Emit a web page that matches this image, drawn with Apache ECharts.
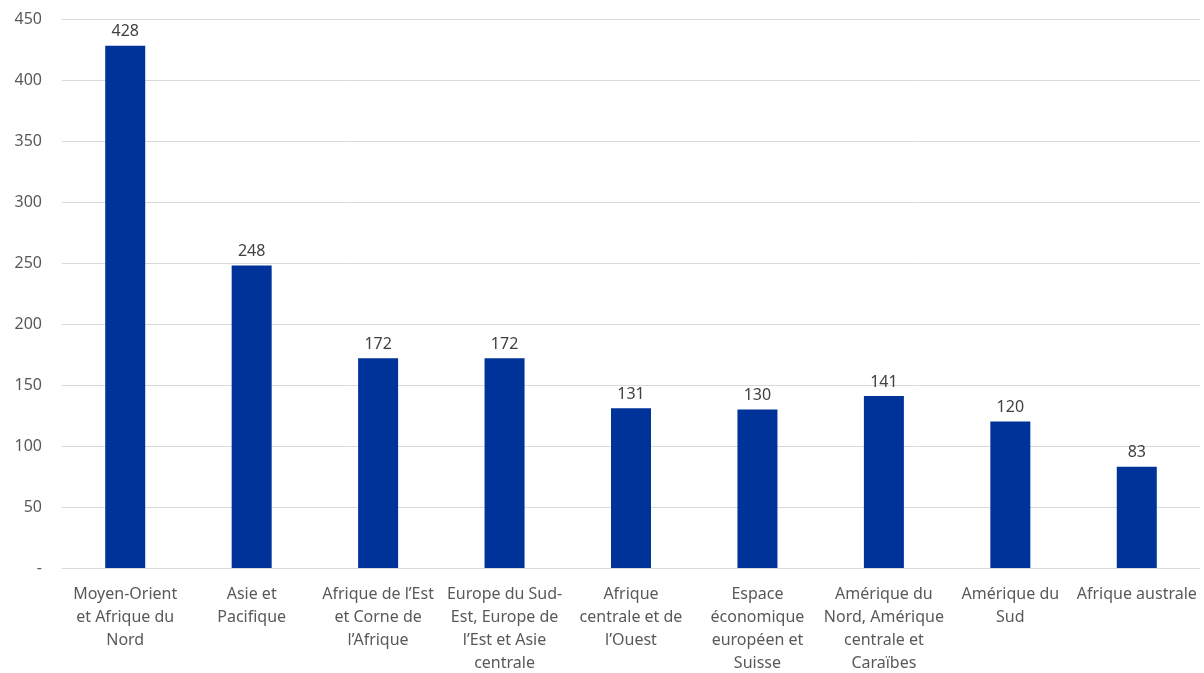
<!DOCTYPE html>
<html lang="fr">
<head>
<meta charset="UTF-8">
<title>Chart</title>
<script src="https://cdn.jsdelivr.net/npm/echarts@6/dist/echarts.min.js"></script>
<style>
  html, body { margin: 0; padding: 0; background: #fff; }
  #chart { width: 1204px; height: 673px; }
</style>
</head>
<body>
<div id="chart"></div>
<script>
var regions = [
  'Moyen-Orient\net Afrique du\nNord',
  'Asie et\nPacifique',
  'Afrique de l’Est\net Corne de\nl’Afrique',
  'Europe du Sud-\nEst, Europe de\nl’Est et Asie\ncentrale',
  'Afrique\ncentrale et de\nl’Ouest',
  'Espace\néconomique\neuropéen et\nSuisse',
  'Amérique du\nNord, Amérique\ncentrale et\nCaraïbes',
  'Amérique du\nSud',
  'Afrique australe'
];
var values = [428, 248, 172, 172, 131, 130, 141, 120, 83];

var chart = echarts.init(document.getElementById('chart'));
var font = 'Noto Sans';

chart.setOption({
  animation: false,
  grid: { left: 62, right: 4, top: 19, bottom: 105, outerBoundsMode: 'none', containLabel: false },
  xAxis: {
    type: 'category',
    data: regions,
    axisLine: { lineStyle: { color: '#d9d9d9' } },
    axisTick: { show: false },
    axisLabel: {
      interval: 0,
      color: '#595959',
      fontFamily: font,
      fontSize: 16,
      lineHeight: 23,
      margin: 15
    }
  },
  yAxis: {
    type: 'value',
    min: 0,
    max: 450,
    interval: 50,
    axisLine: { show: false },
    axisTick: { show: false },
    splitLine: { lineStyle: { color: '#d9d9d9' } },
    axisLabel: {
      color: '#595959',
      fontFamily: font,
      fontSize: 16,
      margin: 20,
      formatter: function (v) { return v === 0 ? '-' : v; }
    }
  },
  series: [{
    type: 'bar',
    data: values,
    barWidth: 40,
    itemStyle: { color: '#003399' },
    label: {
      show: true,
      position: 'top',
      distance: 6,
      color: '#404040',
      fontFamily: font,
      fontSize: 16
    }
  }]
});
</script>
</body>
</html>
